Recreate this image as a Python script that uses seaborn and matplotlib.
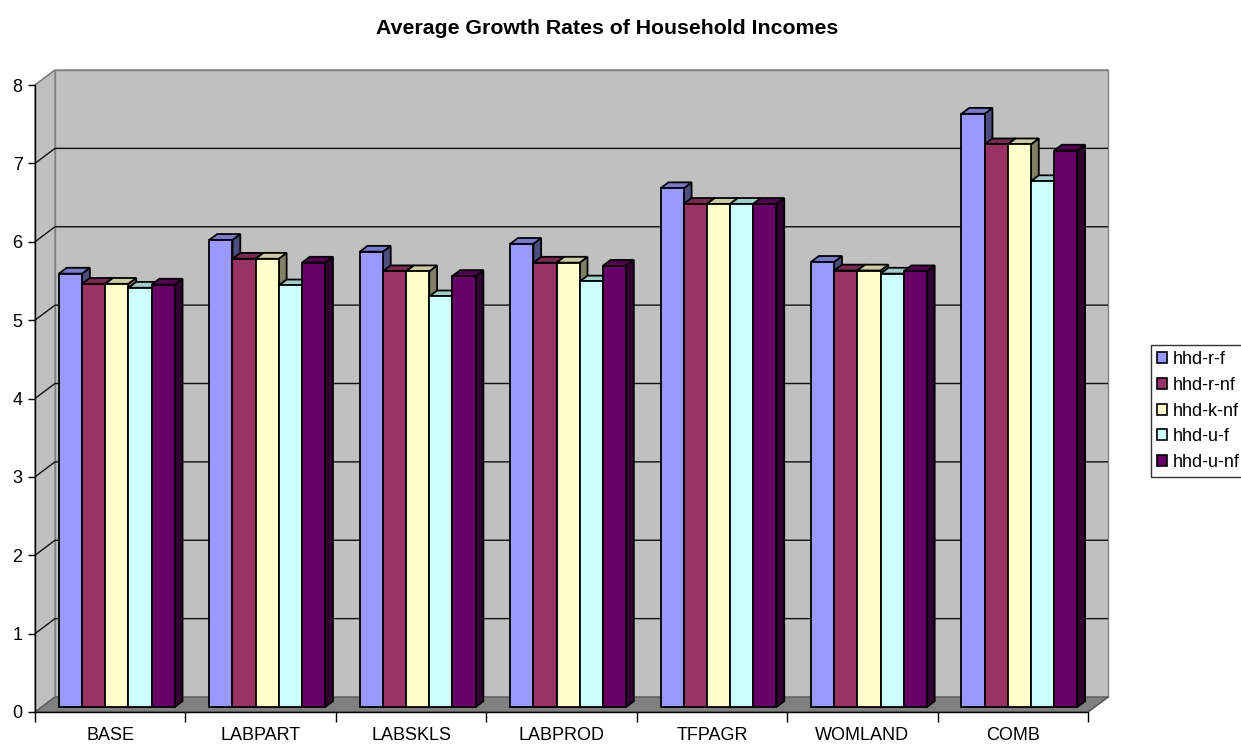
import numpy as np
import pandas as pd
import matplotlib
matplotlib.use("Agg")
import matplotlib.pyplot as plt
import matplotlib.colors as mcolors
from matplotlib.patches import Polygon, Rectangle, Patch
import seaborn as sns

# ---- data ----------------------------------------------------------------
scenarios = ["BASE", "LABPART", "LABSKLS", "LABPROD", "TFPAGR", "WOMLAND", "COMB"]
households = ["hhd-r-f", "hhd-r-nf", "hhd-k-nf", "hhd-u-f", "hhd-u-nf"]
hhd_r_f = [5.53, 5.96, 5.81, 5.91, 6.62, 5.68, 7.57]
hhd_r_nf = [5.40, 5.72, 5.56, 5.67, 6.42, 5.57, 7.18]
hhd_k_nf = [5.40, 5.72, 5.56, 5.67, 6.42, 5.57, 7.18]
hhd_u_f = [5.35, 5.38, 5.24, 5.43, 6.42, 5.53, 6.71]
hhd_u_nf = [5.39, 5.67, 5.50, 5.63, 6.42, 5.56, 7.10]
y_ticks = [0, 1, 2, 3, 4, 5, 6, 7, 8]
colors = ["#9999FF", "#993366", "#FFFFCC", "#CCFFFF", "#660066"]
title = "Average Growth Rates of Household Incomes"

series = [hhd_r_f, hhd_r_nf, hhd_k_nf, hhd_u_f, hhd_u_nf]
df = pd.DataFrame({
    "scenario": np.repeat([scenarios], len(households), axis=0).ravel(),
    "household": np.repeat(households, len(scenarios)),
    "growth": np.concatenate(series),
})

plt.rcParams["font.family"] = ["Liberation Sans", "DejaVu Sans"]
FS = 13
BAR_LW = 1.3

# ---- figure / front plane ------------------------------------------------
W, H = 1241, 744
fig = plt.figure(figsize=(W / 100, H / 100), dpi=100)
x_left, x_right, y_zero, y_top = 35, 1088, 712, 85
ax = fig.add_axes([x_left / W, (H - y_zero) / H,
                   (x_right - x_left) / W, (y_zero - y_top) / H])
ax.set_facecolor("none")

sns.barplot(data=df, x="scenario", y="growth", hue="household",
            order=scenarios, hue_order=households, palette=colors,
            width=0.77, saturation=1, edgecolor="black", linewidth=BAR_LW,
            legend=False, ax=ax)
bars = sorted([p for p in ax.patches if isinstance(p, Rectangle)],
              key=lambda p: p.get_x())

n_cat = len(scenarios)
ax.set_xlim(-0.5, n_cat - 0.5)
ax.set_ylim(0, 8)

# depth of the 3-D box expressed in data units
px_per_x = (x_right - x_left) / n_cat
px_per_y = (y_zero - y_top) / 8
DX, DY = 20 / px_per_x, 15 / px_per_y
F0, F1 = 0.33, 0.72          # front / back depth of the columns

wall_c, floor_c, edge_c = "#C0C0C0", "#808080", "#808080"
x0w, x1w = -0.5, n_cat - 0.5

# back wall, side wall, floor
ax.add_patch(Rectangle((x0w + DX, DY), n_cat, 8, facecolor=wall_c,
                       edgecolor=edge_c, lw=1, zorder=0.5, clip_on=False))
ax.add_patch(Polygon([(x0w, 0), (x0w + DX, DY), (x0w + DX, 8 + DY), (x0w, 8)],
                     closed=True, facecolor=wall_c, edgecolor=edge_c, lw=1,
                     zorder=0.6, clip_on=False))
ax.add_patch(Polygon([(x0w, 0), (x1w, 0), (x1w + DX, DY), (x0w + DX, DY)],
                     closed=True, facecolor=floor_c, edgecolor="#5a5a5a", lw=1,
                     zorder=0.7, clip_on=False))

# gridlines on the walls
for k in y_ticks[1:-1]:
    ax.plot([x0w, x0w + DX, x1w + DX], [k, k + DY, k + DY], color="#111111",
            lw=1.0, zorder=0.8, clip_on=False, solid_capstyle="butt")
ax.plot([x0w, x0w + DX, x1w + DX], [8, 8 + DY, 8 + DY], color=edge_c,
        lw=1, zorder=0.8, clip_on=False)


def shade(c, f):
    r, g, b = mcolors.to_rgb(c)
    return (r * f, g * f, b * f)


# columns: shift the front faces into the box and add top / side faces
ddx, ddy = (F1 - F0) * DX, (F1 - F0) * DY
for i, p in enumerate(bars):
    x0, w, h = p.get_x(), p.get_width(), p.get_height()
    x0 += F0 * DX
    y0 = F0 * DY
    p.set_x(x0)
    p.set_y(y0)
    fc = p.get_facecolor()
    z = 3 + 3 * i
    p.set_zorder(z + 2)
    top = y0 + h
    x1 = x0 + w
    ax.add_patch(Polygon([(x1, y0), (x1, top), (x1 + ddx, top + ddy),
                          (x1 + ddx, y0 + ddy)], closed=True,
                         facecolor=shade(fc, 0.5), edgecolor="black",
                         lw=BAR_LW, zorder=z, joinstyle="miter"))
    ax.add_patch(Polygon([(x0, top), (x1, top), (x1 + ddx, top + ddy),
                          (x0 + ddx, top + ddy)], closed=True,
                         facecolor=shade(fc, 0.8), edgecolor="black",
                         lw=BAR_LW, zorder=z + 1, joinstyle="miter"))

# ---- axes ----------------------------------------------------------------
for s in ("top", "right"):
    ax.spines[s].set_visible(False)
for s in ("left", "bottom"):
    ax.spines[s].set_color("black")
    ax.spines[s].set_linewidth(1)
    ax.spines[s].set_zorder(50)
ax.plot([x1w, x1w + DX], [0, DY], color="#5a5a5a", lw=1, zorder=0.9,
        clip_on=False)

ax.set_yticks(y_ticks)
ax.set_yticklabels([str(t) for t in y_ticks], fontsize=FS)
ax.tick_params(axis="y", direction="out", length=5, width=1, pad=4,
               colors="black")
ax.set_xticks(np.arange(-0.5, n_cat, 1.0))
ax.set_xticklabels([""] * (n_cat + 1))
ax.set_xticks(np.arange(n_cat), minor=True)
ax.set_xticklabels(scenarios, minor=True, fontsize=FS)
ax.tick_params(axis="x", which="major", direction="out", length=7.2, width=1)
ax.tick_params(axis="x", which="minor", length=0, pad=11)
ax.set_xlabel("")
ax.set_ylabel("")

fig.text(607 / W, 1 - 28 / H, title, ha="center", va="center",
         fontsize=15.3, fontweight="bold")

handles = [Patch(facecolor=c, edgecolor="black", linewidth=1.2) for c in colors]
leg = fig.legend(handles, households, loc="upper left",
                 bbox_to_anchor=(1151 / W, 1 - 345 / H), frameon=True,
                 fancybox=False, edgecolor="black", fontsize=FS,
                 handlelength=0.55, handleheight=0.55, handletextpad=0.3,
                 labelspacing=0.48, borderpad=0.35, borderaxespad=0)
leg.get_frame().set_linewidth(1.0)

fig.savefig("out.png", dpi=100, facecolor="white")
